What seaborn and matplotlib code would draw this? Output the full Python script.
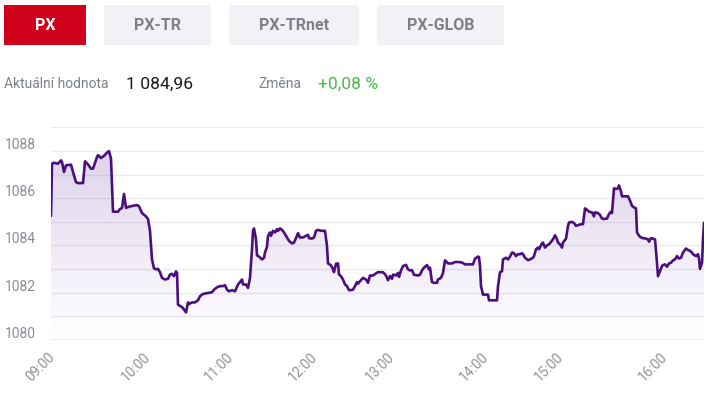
import matplotlib
matplotlib.use('Agg')
import matplotlib.pyplot as plt
import matplotlib.transforms as mtransforms
from matplotlib.patches import Rectangle
import numpy as np
import pandas as pd
import seaborn as sns

# index PX behem dne: poradove cislo bodu a hodnota indexu
bod = [0, 1, 3, 7, 10, 11, 13, 15, 20, 22, 25, 27, 32, 34, 37, 40, 42, 46, 47, 50,
       53, 56, 58, 60, 62, 67, 69, 71, 73, 75, 78, 82, 86, 88, 91, 95, 97, 99, 101, 103,
       105, 107, 109, 111, 114, 117, 119, 121, 123, 125, 126, 127, 130, 132, 135, 137, 138, 141, 144, 147,
       149, 151, 153, 157, 161, 163, 166, 169, 172, 174, 176, 178, 181, 184, 187, 189, 191, 192, 195, 197,
       199, 201, 202, 203, 205, 206, 208, 211, 213, 214, 216, 217, 219, 220, 222, 224, 226, 227, 229, 231,
       233, 236, 238, 241, 243, 246, 247, 249, 252, 255, 257, 258, 261, 263, 265, 267, 270, 274, 276, 277,
       280, 282, 283, 285, 287, 288, 290, 292, 294, 296, 298, 300, 302, 304, 306, 307, 310, 312, 315, 317,
       319, 322, 325, 327, 329, 332, 335, 337, 339, 341, 342, 345, 347, 348, 350, 352, 355, 357, 359, 361,
       363, 367, 369, 371, 373, 376, 378, 379, 381, 383, 386, 387, 390, 392, 394, 397, 401, 404, 407, 411,
       414, 419, 422, 424, 427, 428, 429, 430, 432, 437, 438, 446, 447, 449, 451, 452, 455, 457, 459, 461,
       463, 465, 467, 469, 471, 472, 474, 477, 479, 482, 483, 485, 487, 488, 491, 492, 494, 496, 498, 500,
       502, 504, 506, 507, 509, 511, 512, 515, 517, 518, 521, 523, 525, 527, 530, 532, 534, 536, 538, 541,
       543, 544, 547, 549, 551, 553, 556, 558, 560, 561, 563, 565, 567, 568, 570, 571, 577, 579, 581, 583,
       585, 586, 588, 590, 592, 595, 597, 598, 600, 602, 604, 606, 607, 609, 611, 612, 614, 616, 618, 620,
       622, 624, 626, 628, 630, 632, 635, 637, 639, 641, 642, 645, 647, 648, 649, 651, 652, 653]
hodnota = [1085.25, 1087.46, 1087.50, 1087.46, 1087.60, 1087.53, 1087.11, 1087.39, 1087.42, 1087.11,
           1086.68, 1086.64, 1086.64, 1087.56, 1087.43, 1087.25, 1087.25, 1087.74, 1087.82, 1087.70,
           1087.79, 1087.93, 1087.99, 1087.67, 1085.43, 1085.43, 1085.54, 1085.59, 1086.18, 1085.59,
           1085.64, 1085.68, 1085.71, 1085.66, 1085.37, 1085.23, 1085.12, 1084.62, 1083.41, 1083.03,
           1082.99, 1083.01, 1082.87, 1082.63, 1082.56, 1082.59, 1082.77, 1082.80, 1082.70, 1082.90,
           1082.84, 1081.49, 1081.42, 1081.35, 1081.17, 1081.59, 1081.52, 1081.59, 1081.59, 1081.68,
           1081.85, 1081.92, 1081.96, 1081.99, 1082.02, 1082.13, 1082.23, 1082.28, 1082.28, 1082.32,
           1082.13, 1082.06, 1082.11, 1082.06, 1082.35, 1082.45, 1082.56, 1082.35, 1082.35, 1082.20,
           1082.63, 1083.84, 1084.62, 1084.72, 1084.26, 1083.58, 1083.53, 1083.41, 1083.48, 1083.70,
           1083.95, 1084.40, 1084.55, 1084.41, 1084.62, 1084.55, 1084.69, 1084.62, 1084.72, 1084.66,
           1084.55, 1084.34, 1084.19, 1084.09, 1084.12, 1084.41, 1084.52, 1084.34, 1084.34, 1084.41,
           1084.45, 1084.31, 1084.29, 1084.34, 1084.62, 1084.66, 1084.62, 1084.62, 1083.98, 1083.24,
           1083.16, 1082.99, 1082.87, 1083.23, 1083.24, 1082.77, 1082.70, 1082.56, 1082.35, 1082.28,
           1082.11, 1082.11, 1082.13, 1082.28, 1082.45, 1082.39, 1082.53, 1082.63, 1082.56, 1082.42,
           1082.73, 1082.73, 1082.82, 1082.87, 1082.87, 1082.87, 1082.73, 1082.53, 1082.70, 1082.59,
           1082.77, 1082.73, 1082.84, 1082.67, 1082.94, 1083.13, 1083.18, 1082.99, 1082.94, 1082.96,
           1082.76, 1082.73, 1082.76, 1082.94, 1083.06, 1083.17, 1082.99, 1083.06, 1082.45, 1082.42,
           1082.42, 1082.56, 1082.63, 1082.84, 1083.37, 1083.24, 1083.24, 1083.30, 1083.30, 1083.28,
           1083.20, 1083.20, 1083.20, 1083.44, 1083.53, 1083.51, 1083.13, 1082.28, 1081.92, 1081.92,
           1081.68, 1081.68, 1082.28, 1082.87, 1082.91, 1083.41, 1083.48, 1083.41, 1083.53, 1083.70,
           1083.67, 1083.55, 1083.63, 1083.63, 1083.67, 1083.63, 1083.48, 1083.38, 1083.41, 1083.48,
           1083.55, 1083.84, 1083.91, 1083.84, 1084.09, 1084.12, 1083.91, 1084.01, 1084.05, 1084.15,
           1084.26, 1084.43, 1084.26, 1084.12, 1084.05, 1083.91, 1084.12, 1084.29, 1084.83, 1084.97,
           1085.00, 1084.95, 1084.83, 1084.86, 1084.90, 1084.90, 1085.57, 1085.51, 1085.43, 1085.40,
           1085.23, 1085.40, 1085.37, 1085.29, 1085.14, 1085.12, 1085.14, 1085.33, 1085.43, 1085.37,
           1086.42, 1086.39, 1086.42, 1086.54, 1086.28, 1086.08, 1086.08, 1085.90, 1085.68, 1085.61,
           1085.57, 1084.55, 1084.41, 1084.34, 1084.31, 1084.29, 1084.26, 1084.16, 1084.31, 1084.29,
           1084.26, 1083.27, 1082.70, 1082.91, 1083.13, 1083.17, 1083.20, 1083.10, 1083.24, 1083.27,
           1083.37, 1083.41, 1083.55, 1083.45, 1083.48, 1083.70, 1083.87, 1083.81, 1083.77, 1083.70,
           1083.63, 1083.55, 1083.63, 1083.44, 1083.01, 1083.27, 1084.26, 1084.96]
casy = ['09:00', '10:00', '11:00', '12:00', '13:00', '14:00', '15:00', '16:00']
casy_bod = [0, 95, 178, 262, 339, 433, 508, 612]
y_popisky = [1080, 1082, 1084, 1086, 1088]
zalozky = ['PX', 'PX-TR', 'PX-TRnet', 'PX-GLOB']
aktualni = '1 084,96'
zmena = '+0,08 %'

W, H = 709, 398
sns.set_theme(style='white')
plt.rcParams['font.family'] = ['Roboto', 'DejaVu Sans']

fig = plt.figure(figsize=(W / 100, H / 100), dpi=100)
fig.patch.set_facecolor('white')


def fx(px):
    return px / W


def fy(py):
    return 1 - py / H


# zalozky nahore
tab_x = [(4, 86), (104, 211), (229, 359), (377, 504)]
for i, (nazev, (x0, x1)) in enumerate(zip(zalozky, tab_x)):
    aktivni = i == 0
    fig.add_artist(Rectangle((fx(x0), fy(45)), fx(x1) - fx(x0), fy(5) - fy(45),
                             transform=fig.transFigure,
                             color='#d0021b' if aktivni else '#f2f2f6', lw=0))
    fig.text(fx((x0 + x1) / 2), fy(25), nazev, ha='center', va='center',
             fontsize=11.5, fontweight='bold',
             color='white' if aktivni else '#7d8189')

# radek s hodnotou
fig.text(fx(4), fy(88.5), 'Aktuální hodnota', fontsize=10, color='#7d8189', va='baseline')
fig.text(fx(126), fy(88.5), aktualni, fontsize=12.6, color='#1a1a1a', va='baseline')
fig.text(fx(258), fy(88.5), 'Změna', fontsize=10, color='#7d8189', va='baseline')
fig.text(fx(318), fy(88.5), zmena, fontsize=12.6, color='#4cb848', va='baseline')

# graf
ax = fig.add_axes([fx(51), fy(340), fx(704) - fx(51), fy(127.3) - fy(340)])
df = pd.DataFrame({'bod': bod, 'hodnota': hodnota})
sns.lineplot(data=df, x='bod', y='hodnota', ax=ax, color='#4b0f7d',
             linewidth=1.9, estimator=None, sort=False, zorder=4)

# gradientova vypln pod krivkou
poly = ax.fill_between(df['bod'], df['hodnota'], 1080, color='none', lw=0)
grad = np.zeros((200, 1, 4))
grad[..., 0] = 120 / 255
grad[..., 1] = 70 / 255
grad[..., 2] = 170 / 255
grad[..., 3] = np.linspace(0.27, 0.0, 200)[:, None]
im = ax.imshow(grad, aspect='auto', extent=[0, bod[-1], 1080, 1089],
               origin='upper', zorder=3, interpolation='bilinear')
im.set_clip_path(poly.get_paths()[0], transform=ax.transData)

ax.set_xlim(0, bod[-1])
ax.set_ylim(1080, 1089)
ax.set_yticks(range(1080, 1090))
ax.set_yticklabels([])
ax.yaxis.grid(True, color='#ebebef', lw=1)
ax.xaxis.grid(False)
ax.axhline(1080, color='#e9e9ec', lw=2.2, zorder=5)
for s in ax.spines.values():
    s.set_visible(False)
ax.set_xlabel('')
ax.set_ylabel('')
ax.set_xticks(casy_bod)
ax.set_xticklabels(casy, rotation=45, ha='right', rotation_mode='anchor',
                   fontsize=10, color='#8f9298')
ax.tick_params(axis='both', length=0)
ax.tick_params(axis='x', pad=7)
posun = mtransforms.ScaledTranslation(-0.03, 0, fig.dpi_scale_trans)
for lbl in ax.get_xticklabels():
    lbl.set_transform(lbl.get_transform() + posun)

# popisky osy y nad mrizkou
tr = mtransforms.blended_transform_factory(fig.transFigure, ax.transData)
tr = tr + mtransforms.ScaledTranslation(0, 0.022, fig.dpi_scale_trans)
for v in y_popisky:
    ax.text(fx(5), v, str(v), transform=tr, ha='left', va='baseline',
            fontsize=10, color='#8a8d93')

fig.savefig('out.png', dpi=100)
